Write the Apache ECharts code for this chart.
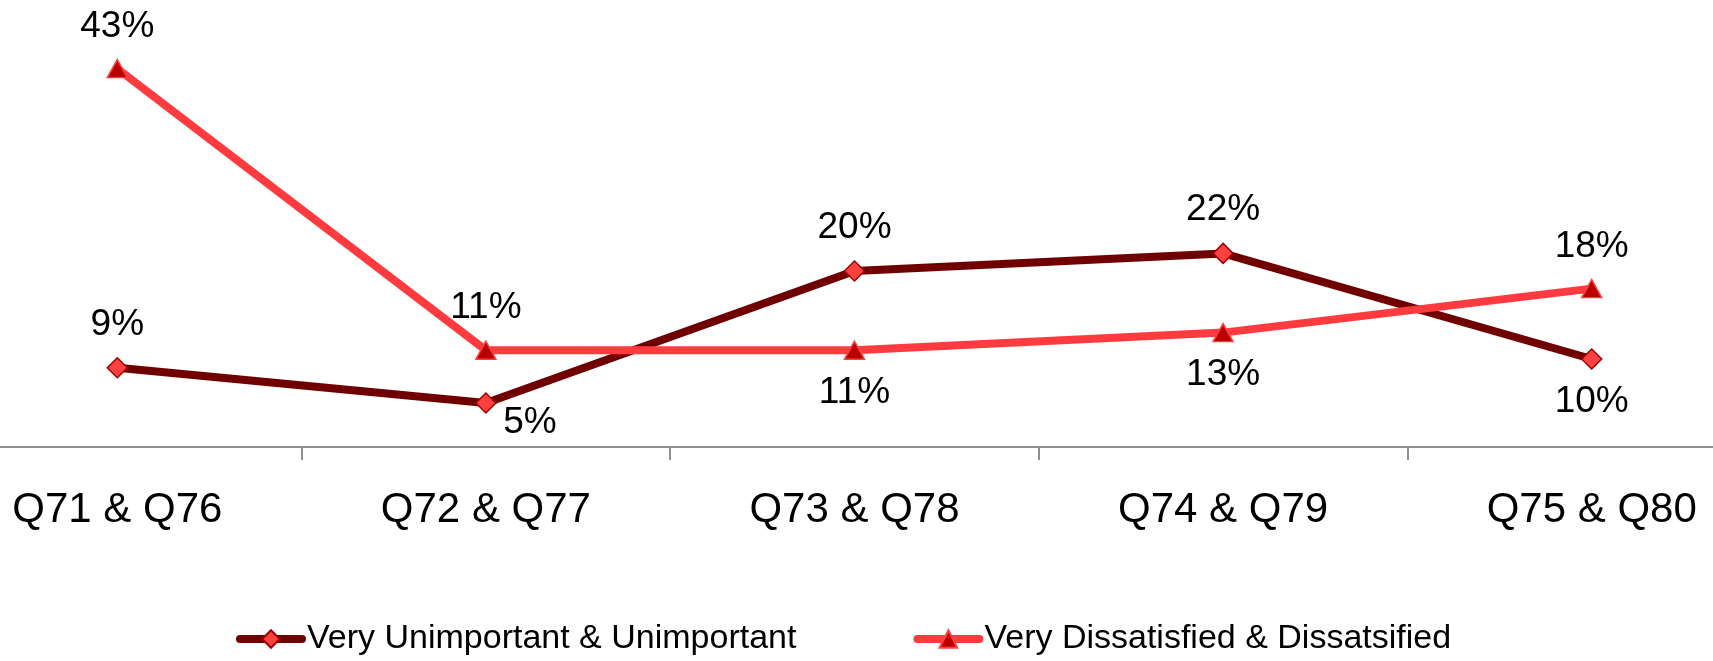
<!DOCTYPE html>
<html>
<head>
<meta charset="utf-8">
<script src="https://cdn.jsdelivr.net/npm/echarts@6/dist/echarts.min.js"></script>
<style>
  html, body { margin: 0; padding: 0; background: #ffffff; overflow: hidden; width: 1713px; height: 661px; }
  /* The plot runs a little past both edges of the page, so the canvas is wider than the window */
  #chart { width: 1843px; height: 661px; margin-left: -67px; }
</style>
</head>
<body>
<div id="chart"></div>
<script>
// Question pairs along the x axis
const categories = ['Q71 & Q76', 'Q72 & Q77', 'Q73 & Q78', 'Q74 & Q79', 'Q75 & Q80'];

// Percent of respondents
const unimportantValues = [9, 5, 20, 22, 10];
const dissatisfiedValues = [43, 11, 11, 13, 18];

// Where each value label sits relative to its point
const unimportantLabelPos = ['top', 'bottom-right', 'top', 'top', 'bottom'];
const dissatisfiedLabelPos = ['top', 'top', 'bottom', 'bottom', 'top'];

const FONT = 'Liberation Sans, Arial, sans-serif';
const PAGE_SHIFT = 67; // canvas starts this far left of the page edge

function labelFor(pos) {
  const base = { show: true, color: '#000', fontSize: 37, fontFamily: FONT, formatter: '{c}%', distance: 14 };
  if (pos === 'bottom-right') {
    return Object.assign(base, { position: 'bottom', offset: [44, -23] });
  }
  return Object.assign(base, { position: pos });
}

function buildData(values, positions) {
  return values.map((v, i) => ({ value: v, label: labelFor(positions[i]) }));
}

const chart = echarts.init(document.getElementById('chart'));
chart.setOption({
  animation: false,
  backgroundColor: '#ffffff',
  grid: { left: 0, right: 0, top: 7, bottom: 214, containLabel: false },
  xAxis: {
    type: 'category',
    data: categories,
    boundaryGap: true,
    axisLine: { show: true, lineStyle: { color: '#8d9093', width: 2 } },
    axisTick: { show: true, length: 13, lineStyle: { color: '#8d9093', width: 2 } },
    axisLabel: { color: '#000', fontSize: 42, fontFamily: FONT, margin: 42 },
    splitLine: { show: false }
  },
  yAxis: {
    type: 'value',
    min: 0,
    max: 50,
    show: false,
    splitLine: { show: false }
  },
  legend: {
    left: 236 + PAGE_SHIFT,
    top: 622,
    padding: 0,
    itemWidth: 62,
    itemHeight: 22,
    itemGap: 117,
    lineStyle: { width: 8, cap: 'round' },
    textStyle: { color: '#000', fontSize: 34, fontFamily: FONT },
    data: ['Very Unimportant & Unimportant', 'Very Dissatisfied & Dissatsified']
  },
  series: [
    {
      name: 'Very Unimportant & Unimportant',
      type: 'line',
      data: buildData(unimportantValues, unimportantLabelPos),
      symbol: 'diamond',
      symbolSize: 20,
      lineStyle: { color: '#700000', width: 8 },
      itemStyle: { color: '#ff4040', borderColor: '#a00000', borderWidth: 1.5 },
      z: 2
    },
    {
      name: 'Very Dissatisfied & Dissatsified',
      type: 'line',
      data: buildData(dissatisfiedValues, dissatisfiedLabelPos),
      symbol: 'triangle',
      symbolSize: [20, 18],
      lineStyle: { color: '#ff3b3f', width: 8 },
      itemStyle: { color: '#b80000', borderColor: '#ff4040', borderWidth: 1.5 },
      z: 3
    }
  ]
});
</script>
</body>
</html>
